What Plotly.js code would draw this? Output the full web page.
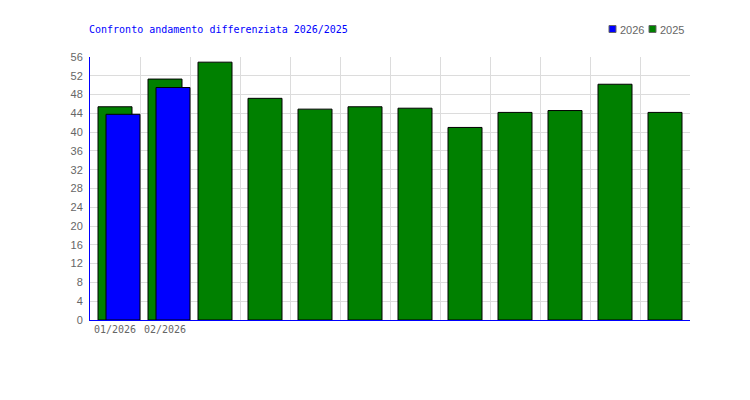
<!DOCTYPE html>
<html><head><meta charset="utf-8">
<script src="https://cdn.plot.ly/plotly-3.0.1.min.js"></script>
<style>html,body{margin:0;padding:0;background:#fff}</style>
</head><body><div id="chart" style="width:750px;height:400px"></div>
<script>
const months = ["01","02","03","04","05","06","07","08","09","10","11","12"];
const tickLabels = ["01/2026","02/2026","","","","","","","","","",""];
const values2025 = [45.4,51.3,54.9,47.2,44.9,45.4,45.1,41.0,44.2,44.6,50.2,44.2];
const months2026 = ["01","02"];
const values2026 = [43.8,49.5];
const yTicks = [0,4,8,12,16,20,24,28,32,36,40,44,48,52,56];
const seriesNames = ["2026","2025"];
const seriesColors = ["#0000ff","#008000"];

const traces = [
  {type:"bar", name:seriesNames[1], x:months, y:values2025,
   marker:{color:seriesColors[1], line:{color:"#000", width:1}},
   width:0.68, offset:-0.34, showlegend:false},
  {type:"bar", name:seriesNames[0], x:months2026, y:values2026,
   marker:{color:seriesColors[0], line:{color:"#000", width:1}},
   width:0.68, offset:-0.18, showlegend:false}
];

// Legend drawn as shapes + text (pixel -> paper conversion)
const L = 90, T = 57, W = 600, H = 263;
const px = v => (v - L) / W;
const py = v => (T + H - v) / H;
const legendX = [609, 649];
const shapes = [], annotations = [];
seriesNames.forEach((n, i) => {
  shapes.push({type:"rect", xref:"paper", yref:"paper",
    x0:px(legendX[i]), x1:px(legendX[i]+7), y0:py(32.5), y1:py(25.5),
    fillcolor:seriesColors[i], line:{color:"#666", width:1}});
  annotations.push({xref:"paper", yref:"paper", x:px(legendX[i]+9), y:py(29.5),
    xanchor:"left", yanchor:"middle", showarrow:false, text:n,
    font:{family:"Liberation Sans, Arial, sans-serif", size:11, color:"#666"}});
});

const layout = {
  width:750, height:400,
  margin:{l:L, r:750-L-W, t:T, b:400-T-H, pad:0},
  paper_bgcolor:"#fff", plot_bgcolor:"#fff",
  barmode:"overlay",
  showlegend:false,
  shapes, annotations,
  title:{text:"Confronto andamento differenziata 2026/2025", xref:"container", x:89/750, xanchor:"left",
    yref:"container", y:1-29/400, yanchor:"middle",
    font:{family:"DejaVu Sans Mono, monospace", size:10, color:"#0000ff"}},
  xaxis:{type:"category", categoryorder:"array", categoryarray:months,
    tickmode:"array", tickvals:months, ticktext:tickLabels, tickangle:0,
    tickson:"boundaries", ticks:"", showgrid:true, gridcolor:"#dcdcdc", gridwidth:1,
    showline:true, linecolor:"#0000ff", linewidth:1, range:[-0.5,11.5],
    tickfont:{family:"DejaVu Sans Mono, monospace", size:10, color:"#666"}, fixedrange:true},
  yaxis:{range:[0,56], tickmode:"array", tickvals:yTicks, ticks:"", showgrid:true, gridcolor:"#dcdcdc",
    gridwidth:1, showline:true, linecolor:"#0000ff", linewidth:1, zeroline:false, ticklabelstandoff:4,
    tickfont:{family:"Liberation Sans, Arial, sans-serif", size:11, color:"#666"}, fixedrange:true}
};
Plotly.newPlot("chart", traces, layout, {displayModeBar:false, staticPlot:true});
</script></body></html>
